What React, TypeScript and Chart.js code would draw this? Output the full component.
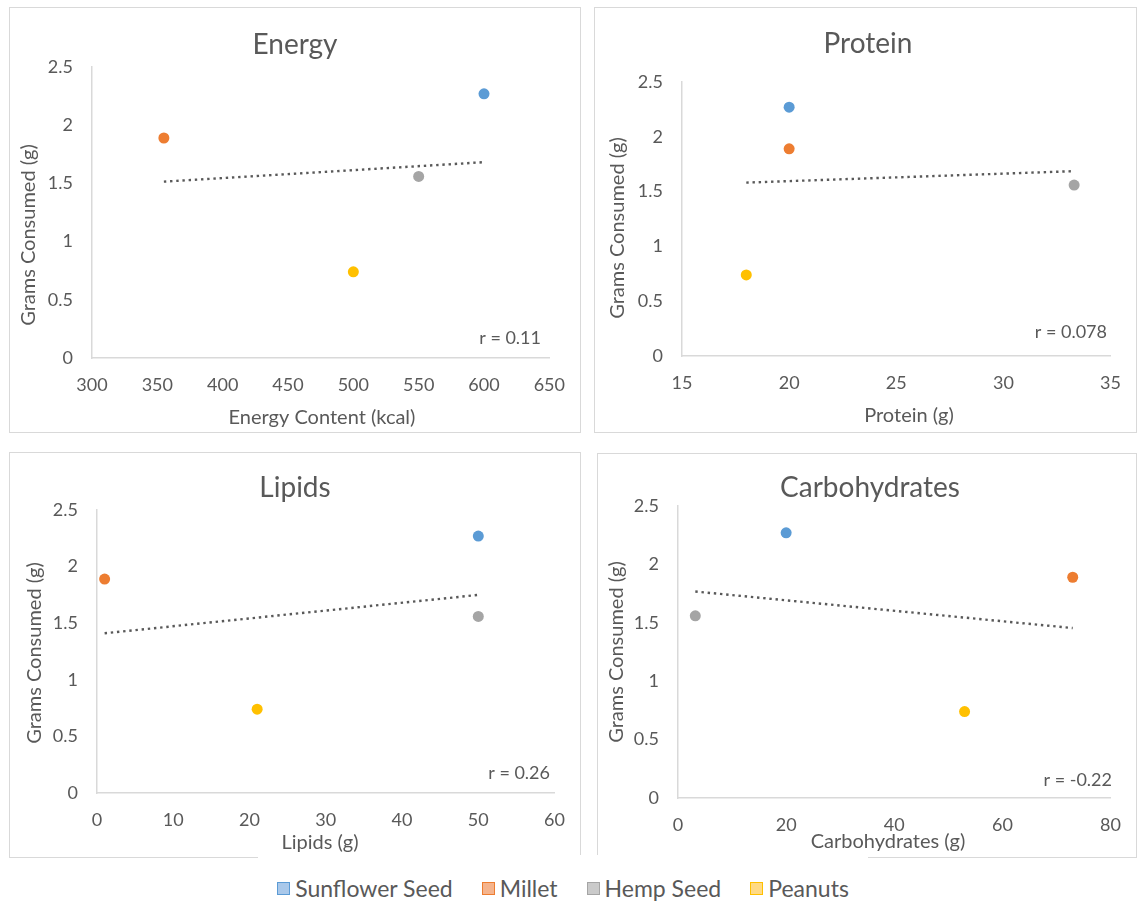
import React, { useEffect, useRef } from "react";
import { Chart, registerables } from "chart.js";

Chart.register(...registerables);

// ---------- data ----------
const SERIES_NAMES = ["Sunflower Seed", "Millet", "Hemp Seed", "Peanuts"];
const SERIES_COLORS = ["#5B9BD5", "#ED7D31", "#A5A5A5", "#FFC000"];
const LEGEND_FILLS = ["#A9C8EA", "#F5B48D", "#CACACA", "#FFDA85"];
const GRAMS_CONSUMED = [2.27, 1.89, 1.56, 0.74];
const ENERGY_KCAL = [600, 355, 550, 500];
const PROTEIN_G = [20, 20, 33.3, 18];
const LIPIDS_G = [50, 1, 50, 21];
const CARBS_G = [20, 73, 3.2, 53];

const PANEL_TITLES = ["Energy", "Protein", "Lipids", "Carbohydrates"];
const X_TITLES = ["Energy Content (kcal)", "Protein (g)", "Lipids (g)", "Carbohydrates (g)"];
const Y_TITLE = "Grams Consumed (g)";
const R_LABELS = ["r = 0.11", "r = 0.078", "r = 0.26", "r = -0.22"];
const X_MIN = [300, 15, 0, 0];
const X_MAX = [650, 35, 60, 80];
const X_STEP = [50, 5, 10, 20];
const Y_MIN = 0;
const Y_MAX = 2.5;
const Y_STEP = 0.5;

const X_VALUES = [ENERGY_KCAL, PROTEIN_G, LIPIDS_G, CARBS_G];

// ---------- layout (positions / sizes only) ----------
type Box = { x: number; y: number; w: number; h: number };
type Layout = {
  box: Box;
  plot: { l: number; t: number; r: number; b: number };
  title: [number, number];
  xTitle: [number, number];
  yTitle: [number, number];
  rLabel: [number, number];
};

const LAYOUTS: Layout[] = [
  { box: { x: 9, y: 7, w: 572, h: 426 }, plot: { l: 83, t: 60, r: 543, b: 351 }, title: [286, 38], xTitle: [313, 411], yTitle: [20, 228], rLabel: [532, 331] },
  { box: { x: 594, y: 7, w: 543, h: 426 }, plot: { l: 88, t: 75, r: 523, b: 349 }, title: [274, 37], xTitle: [315, 409], yTitle: [24, 221], rLabel: [513, 325] },
  { box: { x: 9, y: 452, w: 572, h: 406 }, plot: { l: 88, t: 58, r: 548, b: 341 }, title: [286, 36], xTitle: [311, 391], yTitle: [26, 201], rLabel: [541, 321] },
  { box: { x: 597, y: 453, w: 540, h: 405 }, plot: { l: 81, t: 53, r: 524, b: 345 }, title: [273, 35], xTitle: [291, 389], yTitle: [20, 199], rLabel: [515, 327] },
];

const FONT = "Lato, 'Open Sans', sans-serif";
const TEXT_COLOR = "#595959";
const LINE_COLOR = "#D9D9D9";

// least-squares trendline through the plotted points
function trendline(xs: number[], ys: number[]) {
  const n = xs.length;
  const mx = xs.reduce((a, b) => a + b, 0) / n;
  const my = ys.reduce((a, b) => a + b, 0) / n;
  let sxy = 0;
  let sxx = 0;
  for (let i = 0; i < n; i++) {
    sxy += (xs[i] - mx) * (ys[i] - my);
    sxx += (xs[i] - mx) * (xs[i] - mx);
  }
  const slope = sxy / sxx;
  const lo = Math.min(...xs);
  const hi = Math.max(...xs);
  return [
    { x: lo, y: my + slope * (lo - mx) },
    { x: hi, y: my + slope * (hi - mx) },
  ];
}

const panelTextPlugin = {
  id: "panelText",
  beforeDraw(chart: any) {
    const ctx = chart.ctx;
    ctx.save();
    ctx.fillStyle = "#ffffff";
    ctx.fillRect(0, 0, chart.width, chart.height);
    ctx.strokeStyle = LINE_COLOR;
    ctx.lineWidth = 1;
    ctx.strokeRect(0.5, 0.5, chart.width - 1, chart.height - 1);
    ctx.restore();
  },
  afterDraw(chart: any, _args: any, opts: any) {
    const ctx = chart.ctx;
    ctx.save();
    ctx.fillStyle = TEXT_COLOR;
    ctx.textBaseline = "middle";
    // title
    ctx.font = `28px ${FONT}`;
    ctx.textAlign = "center";
    ctx.fillText(opts.title, opts.titleX, opts.titleY);
    // x axis title
    ctx.font = `20px ${FONT}`;
    ctx.fillText(opts.xTitle, opts.xTitleX, opts.xTitleY);
    // y axis title
    ctx.save();
    ctx.translate(opts.yTitleX, opts.yTitleY);
    ctx.rotate(-Math.PI / 2);
    ctx.fillText(opts.yTitle, 0, 0);
    ctx.restore();
    // r label
    ctx.font = `18px ${FONT}`;
    ctx.textAlign = "right";
    ctx.fillText(opts.rLabel, opts.rX, opts.rY);
    ctx.restore();
  },
};

function Panel({ index }: { index: number }) {
  const ref = useRef<HTMLCanvasElement | null>(null);
  const L = LAYOUTS[index];

  useEffect(() => {
    if (!ref.current) return;
    const xs = X_VALUES[index];
    const pointSets = SERIES_NAMES.map((name, i) => ({
      type: "scatter" as const,
      label: name,
      data: [{ x: xs[i], y: GRAMS_CONSUMED[i] }],
      backgroundColor: SERIES_COLORS[i],
      borderColor: SERIES_COLORS[i],
      pointRadius: 5.5,
      pointBorderWidth: 0,
      order: 2,
    }));
    const trend = {
      type: "line" as const,
      label: "Trendline",
      data: trendline(xs, GRAMS_CONSUMED),
      borderColor: "#595959",
      borderWidth: 2.4,
      borderDash: [2.4, 3.8],
      pointRadius: 0,
      fill: false,
      order: 1,
    };

    const tickFmt = (v: any) => `${Number(v)}`;

    const chart = new Chart(ref.current, {
      type: "scatter",
      data: { datasets: [...pointSets, trend] as any },
      options: {
        animation: false,
        responsive: false,
        events: [],
        layout: {
          padding: {
            left: 0,
            bottom: 0,
            top: L.plot.t,
            right: L.box.w - L.plot.r,
          },
        },
        plugins: {
          legend: { display: false },
          tooltip: { enabled: false },
          title: { display: false },
          panelText: {
            title: PANEL_TITLES[index],
            titleX: L.title[0],
            titleY: L.title[1],
            xTitle: X_TITLES[index],
            xTitleX: L.xTitle[0],
            xTitleY: L.xTitle[1],
            yTitle: Y_TITLE,
            yTitleX: L.yTitle[0],
            yTitleY: L.yTitle[1],
            rLabel: R_LABELS[index],
            rX: L.rLabel[0],
            rY: L.rLabel[1],
          },
        } as any,
        scales: {
          x: {
            type: "linear",
            min: X_MIN[index],
            max: X_MAX[index],
            grid: { display: false, drawTicks: false },
            border: { display: true, color: LINE_COLOR, width: 1.5 },
            ticks: {
              stepSize: X_STEP[index],
              color: TEXT_COLOR,
              font: { family: FONT, size: 18 },
              padding: 16,
              maxRotation: 0,
              autoSkip: false,
              callback: tickFmt,
            },
            afterFit: (scale: any) => {
              scale.height = L.box.h - L.plot.b;
            },
          },
          y: {
            type: "linear",
            min: Y_MIN,
            max: Y_MAX,
            grid: { display: false, drawTicks: false },
            border: { display: true, color: LINE_COLOR, width: 1.5 },
            ticks: {
              stepSize: Y_STEP,
              color: TEXT_COLOR,
              font: { family: FONT, size: 18 },
              padding: 19,
              autoSkip: false,
              callback: tickFmt,
            },
            afterFit: (scale: any) => {
              scale.width = L.plot.l;
            },
          },
        },
      },
      plugins: [panelTextPlugin as any],
    });
    return () => chart.destroy();
  }, [index]);

  return (
    <canvas
      ref={ref}
      width={L.box.w}
      height={L.box.h}
      style={{ position: "absolute", left: L.box.x, top: L.box.y, width: L.box.w, height: L.box.h }}
    />
  );
}

function Legend() {
  return (
    <div
      style={{
        position: "absolute",
        left: 258,
        top: 855,
        width: 610,
        height: 66,
        background: "#ffffff",
        display: "flex",
        alignItems: "center",
        justifyContent: "center",
        fontFamily: FONT,
        fontSize: 23,
        color: TEXT_COLOR,
        zIndex: 2,
      }}
    >
      {SERIES_NAMES.map((name, i) => (
        <div key={name} style={{ display: "flex", alignItems: "center", marginRight: i < SERIES_NAMES.length - 1 ? 29 : 0 }}>
          <span
            style={{
              display: "inline-block",
              width: 11,
              height: 11,
              background: LEGEND_FILLS[i],
              border: `1.5px solid ${SERIES_COLORS[i]}`,
              marginRight: 5,
            }}
          />
          <span>{name}</span>
        </div>
      ))}
    </div>
  );
}

export default function App() {
  return (
    <div style={{ position: "absolute", left: 0, top: 0, width: 1138, height: 901, background: "#ffffff", overflow: "hidden" }}>
      {LAYOUTS.map((_, i) => (
        <Panel key={i} index={i} />
      ))}
      <Legend />
    </div>
  );
}
